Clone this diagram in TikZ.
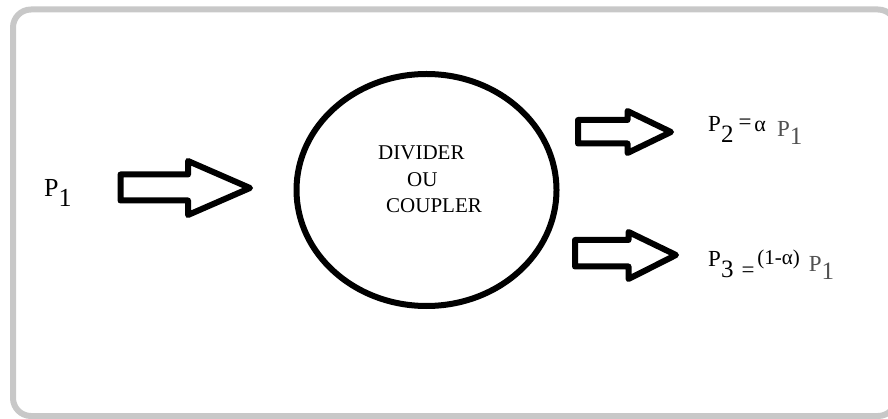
\documentclass[tikz,border=0pt]{standalone}
\usepackage{fontspec}
\setmainfont{Liberation Serif}
\usepackage{xcolor}
\usetikzlibrary{shapes.geometric,positioning}
\definecolor{framegray}{HTML}{C8C8C8}
\definecolor{pgray}{HTML}{505050}
\newcommand{\fsz}[1]{\fontsize{#1}{#1}\selectfont}

\begin{document}
\begin{tikzpicture}[
  x=1pt, y=-1pt,
  every node/.style={inner sep=0pt},
  frame/.style={draw=framegray, line width=6pt, rounded corners=18pt},
  blockarr/.style={draw, fill=white, line width=6pt, line join=round},
  lbl/.style={anchor=base west, font=\fsz{23}},
  inlbl/.style={anchor=base west, font=\fsz{21}},
  box/.style={ellipse, draw, line width=6pt, minimum width=260pt, minimum height=232pt}
]
\useasboundingbox (0,0) rectangle (888,419);
\draw[frame] (13,9.5) rectangle (896,416);

% coupler
\node[box] (coupler) at (426.5,190) {};
\node[inlbl] (divl) at (378,160) {DIVIDER};
\node[inlbl] (oul) at (407,187) {OU};
\node[inlbl] (coupl) at (386,213) {COUPLER};

% input
\node[lbl] (pin) at (44,197) {\fsz{26}P\raisebox{-10pt}{1}};
\draw[blockarr] (120.5,174.5) -- (188,174.5) -- (188,161) -- (250,188)
  -- (188,215) -- (188,200.5) -- (120.5,200.5) -- cycle;

% outputs
\draw[blockarr] (578,120) -- (627.5,120) -- (627.5,111) -- (671,132)
  -- (627.5,153) -- (627.5,143.5) -- (578,143.5) -- cycle;
\draw[blockarr] (575,240) -- (628.5,240) -- (628.5,232) -- (676,255)
  -- (628.5,279) -- (628.5,266.5) -- (575,266.5) -- cycle;

\node[lbl] (pout2) at (708,132) {P\raisebox{-11pt}{\fsz{25}2}\hspace{5pt}\raisebox{2pt}{\fsz{23}=}\hspace{3pt}{\fsz{22}α}\hspace{11pt}\textcolor{pgray}{\raisebox{-5pt}{P}\raisebox{-13pt}{\fsz{25}1}}};
\node[lbl] (pout3) at (708,267) {P\raisebox{-11pt}{\fsz{25}3}\hspace{8pt}\raisebox{-11pt}{\fsz{23}=}\hspace{3pt}\raisebox{2pt}{\fsz{21}(1-α)}\hspace{9pt}\textcolor{pgray}{\raisebox{-5pt}{P}\raisebox{-13pt}{\fsz{25}1}}};
\end{tikzpicture}
\end{document}
